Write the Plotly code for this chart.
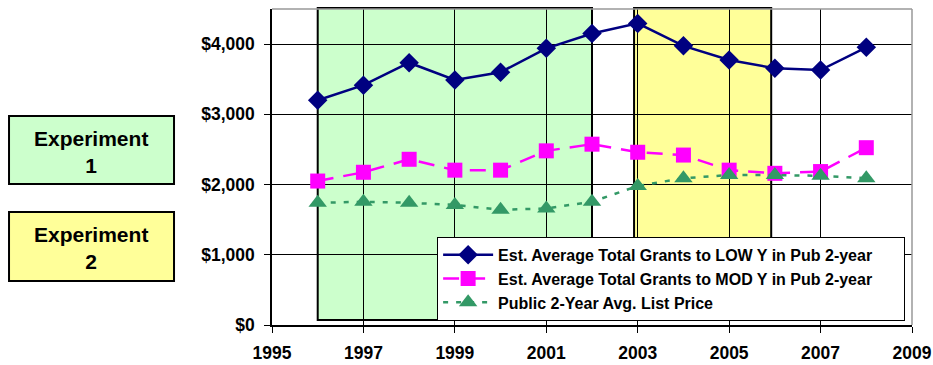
import plotly.graph_objects as go

years = [1996, 1997, 1998, 1999, 2000, 2001, 2002, 2003, 2004, 2005, 2006, 2007, 2008]
low_grants = [3200, 3415, 3735, 3490, 3600, 3940, 4150, 4295, 3975, 3775, 3655, 3630, 3955]
mod_grants = [2050, 2175, 2360, 2205, 2205, 2480, 2575, 2460, 2420, 2205, 2160, 2185, 2525]
list_price = [1740, 1755, 1740, 1710, 1640, 1660, 1755, 1980, 2090, 2135, 2135, 2125, 2090]

series_names = [
    "Est. Average Total Grants to LOW Y in Pub 2-year",
    "Est. Average Total Grants to MOD Y in Pub 2-year",
    "Public 2-Year Avg. List Price",
]
exp1_span = (1996, 2002)
exp2_span = (2002.92, 2005.92)
x_ticks = [1995, 1997, 1999, 2001, 2003, 2005, 2007, 2009]
y_ticks = [0, 1000, 2000, 3000, 4000]
y_tick_labels = ["$0", "$1,000", "$2,000", "$3,000", "$4,000"]

FONT = "Arial, Liberation Sans, sans-serif"

fig = go.Figure()
fig.add_trace(go.Scatter(
    x=years, y=low_grants, name=series_names[0] + "&nbsp;" * 6, mode="lines+markers",
    line=dict(color="#000080", width=2.5),
    marker=dict(symbol="diamond", size=15, color="#000080"),
    legendgroup="a",
))
fig.add_trace(go.Scatter(
    x=years, y=mod_grants, name=series_names[1], mode="lines+markers",
    line=dict(color="#FF00FF", width=2.5, dash="16px,10px"),
    marker=dict(symbol="square", size=15, color="#FF00FF"),
    legendgroup="b",
))
fig.add_trace(go.Scatter(
    x=years, y=list_price, name=series_names[2], mode="lines+markers",
    line=dict(color="#339966", width=2.5, dash="5px,8px"),
    marker=dict(symbol="triangle-up", size=16, color="#339966"),
    legendgroup="c",
))

shapes = [
    dict(type="rect", xref="x", yref="paper", x0=exp1_span[0], x1=exp1_span[1],
         y0=0.016, y1=1.003, fillcolor="#CCFFCC", line=dict(color="#000000", width=2),
         layer="below"),
    dict(type="rect", xref="x", yref="paper", x0=exp2_span[0], x1=exp2_span[1],
         y0=0.016, y1=1.003, fillcolor="#FFFF99", line=dict(color="#000000", width=2),
         layer="below"),
    dict(type="line", xref="paper", yref="paper", x0=0, x1=1, y0=1, y1=1,
         line=dict(color="#999999", width=1.5), layer="above"),
    dict(type="line", xref="paper", yref="paper", x0=1, x1=1, y0=0, y1=1,
         line=dict(color="#999999", width=1.5), layer="above"),
    dict(type="rect", xref="paper", yref="paper", x0=-0.4109, x1=-0.1531,
         y0=0.4462, y1=0.6614, fillcolor="#CCFFCC", line=dict(color="#000000", width=2)),
    dict(type="rect", xref="paper", yref="paper", x0=-0.4109, x1=-0.1531,
         y0=0.1392, y1=0.3576, fillcolor="#FFFF99", line=dict(color="#000000", width=2)),
]

annotations = [
    dict(text="Experiment<br>1", xref="paper", yref="paper", x=-0.283, y=0.548,
         xanchor="center", yanchor="middle", showarrow=False,
         font=dict(family=FONT, size=21, color="#000", weight="bold")),
    dict(text="Experiment<br>2", xref="paper", yref="paper", x=-0.283, y=0.243,
         xanchor="center", yanchor="middle", showarrow=False,
         font=dict(family=FONT, size=21, color="#000", weight="bold")),
]

fig.update_layout(
    width=933, height=365,
    margin=dict(l=272, r=21, t=9, b=40),
    paper_bgcolor="white", plot_bgcolor="white",
    shapes=shapes, annotations=annotations,
    showlegend=True,
    legend=dict(
        x=0.258, y=0.279, xanchor="left", yanchor="top",
        bgcolor="white", bordercolor="#000000", borderwidth=1,
        font=dict(family=FONT, size=16, color="#000", weight="bold"),
        traceorder="grouped", tracegroupgap=0, itemwidth=50,
    ),
    xaxis=dict(
        range=[1995, 2009], tickvals=x_ticks, ticktext=[str(t) for t in x_ticks],
        showgrid=True, gridcolor="#000000", gridwidth=1,
        showline=True, linecolor="#000000", linewidth=1.5,
        ticks="outside", ticklen=6, tickcolor="#000000",
        ticklabelstandoff=5, automargin=False,
        tickfont=dict(family=FONT, size=17.5, color="#000", weight="bold"),
        zeroline=False,
    ),
    yaxis=dict(
        range=[0, 4500], tickvals=y_ticks, ticktext=y_tick_labels,
        showgrid=True, gridcolor="#000000", gridwidth=1,
        showline=True, linecolor="#000000", linewidth=1.5,
        ticks="outside", ticklen=6, tickcolor="#000000",
        ticklabelstandoff=6, automargin=False,
        tickfont=dict(family=FONT, size=17.5, color="#000", weight="bold"),
        zeroline=False,
    ),
)

fig.write_html("out.html")
